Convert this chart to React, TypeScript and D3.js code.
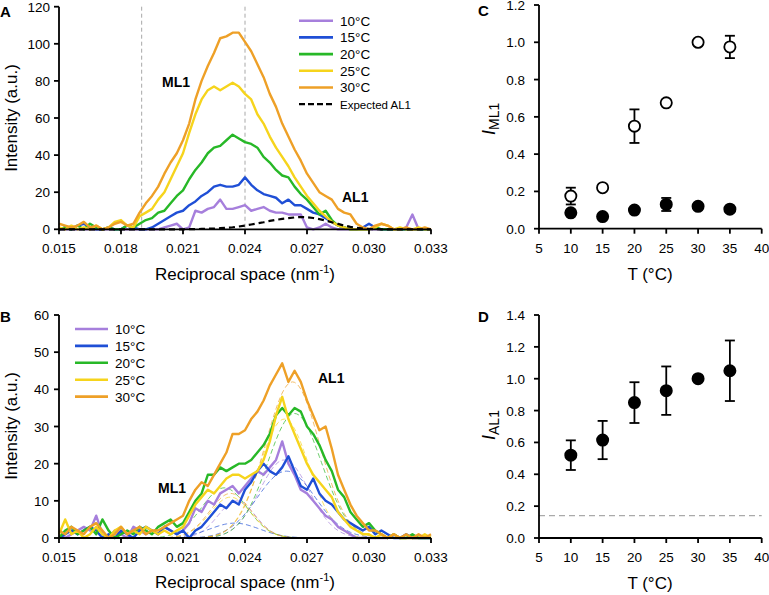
import React from "react";
import * as d3 from "d3";

// ---------- shared x grid for panels A & B (reciprocal space, nm^-1) ----------
const xGrid = [
  0.015, 0.0153, 0.0156, 0.0159, 0.0162, 0.0165, 0.0168, 0.0171, 0.0174, 0.0177,
  0.018, 0.0183, 0.0186, 0.0189, 0.0192, 0.0195, 0.0198, 0.0201, 0.0204, 0.0207,
  0.021, 0.0213, 0.0216, 0.0219, 0.0222, 0.0225, 0.0228, 0.0231, 0.0234, 0.0237,
  0.024, 0.0243, 0.0246, 0.0249, 0.0252, 0.0255, 0.0258, 0.0261, 0.0264, 0.0267,
  0.027, 0.0273, 0.0276, 0.0279, 0.0282, 0.0285, 0.0288, 0.0291, 0.0294, 0.0297,
  0.03, 0.0303, 0.0306, 0.0309, 0.0312, 0.0315, 0.0318, 0.0321, 0.0324, 0.0327, 0.033,
];

const tempLabels = ["10°C", "15°C", "20°C", "25°C", "30°C"];
const tempColors = ["#a67fdc", "#1f4fd6", "#27b827", "#f6d41c", "#eea027"];

// ---------- Panel A intensities ----------
const a10 = [0, 0, 0, 0, 0, 0, 0, 0, 0, 0, 0, 0, 0, 0, 0, 0, 0, 1, 2, 3, 0, 1, 10, 9, 11, 12, 16, 11, 11, 12, 13, 10, 11, 12, 10, 9, 9, 8, 8, 8, 1, 0, 1, 3, 1, 0, 0, 0, 0, 0, 0, 0, 0, 0, 0, 0, 1, 8, 0, 0, 0];
const a15 = [0, 1, 0, 2, 3, 1, 0, 0, 1, 0, 0, 2, 1, 0, 0, 1, 3, 5, 7, 9, 10, 13, 15, 18, 20, 23, 24, 23, 23, 24, 28, 24, 21, 19, 18, 17, 14, 16, 13, 13, 11, 9, 8, 6, 4, 2, 1, 0, 0, 1, 3, 1, 0, 0, 0, 0, 0, 0, 0, 0, 0];
const a20 = [0, 1, 0, 2, 0, 3, 1, 0, 1, 0, 0, 2, 1, 3, 5, 6, 9, 10, 14, 18, 21, 27, 32, 36, 41, 44, 45, 48, 51, 49, 47, 46, 44, 39, 36, 32, 29, 28, 23, 19, 16, 12, 8, 10, 5, 2, 1, 0, 0, 0, 0, 1, 0, 0, 0, 0, 0, 0, 0, 0, 0];
const a25 = [1, 0, 2, 0, 1, 0, 2, 0, 1, 4, 5, 2, 1, 7, 9, 11, 16, 20, 27, 34, 41, 52, 62, 70, 75, 77, 75, 77, 79, 77, 73, 70, 62, 57, 50, 44, 39, 34, 28, 23, 18, 14, 10, 7, 4, 2, 1, 0, 0, 0, 0, 1, 3, 2, 0, 1, 0, 0, 1, 0, 0];
const a30 = [3, 2, 1, 2, 4, 1, 2, 0, 1, 3, 4, 2, 3, 9, 14, 18, 23, 30, 36, 41, 48, 57, 70, 80, 88, 95, 103, 104, 106, 106, 101, 96, 89, 82, 73, 66, 57, 50, 43, 37, 30, 25, 20, 18, 16, 11, 9, 8, 3, 1, 0, 2, 3, 2, 0, 0, 1, 0, 0, 1, 0];
const expectedAL1 = [0, 0, 0, 0, 0, 0, 0, 0, 0, 0, 0, 0, 0, 0, 0, 0, 0, 0, 0, 0, 0, 0.05, 0.1, 0.2, 0.3, 0.4, 0.6, 0.8, 1.1, 1.5, 2.0, 2.6, 3.2, 3.8, 4.5, 5.1, 5.6, 6.0, 6.4, 6.6, 6.5, 6.1, 5.5, 4.7, 3.8, 2.9, 2.0, 1.3, 0.8, 0.4, 0.2, 0.1, 0, 0, 0, 0, 0, 0, 0, 0, 0];
const seriesA = [a10, a15, a20, a25, a30];

// ---------- Panel B intensities ----------
const b10 = [1, 0, 1, 2, 3, 2, 6, 1, 0, 2, 1, 0, 3, 2, 1, 2, 1, 3, 2, 1, 2, 4, 8, 7, 10, 9, 12, 13, 14, 12, 14, 16, 18, 17, 19, 21, 26, 20, 17, 13, 12, 10, 8, 6, 5, 3, 2, 1, 0, 0, 0, 0, 0, 0, 1, 0, 0, 0, 0, 0, 0];
const b15 = [0, 1, 2, 1, 2, 3, 2, 0, 1, 0, 2, 1, 0, 2, 3, 2, 1, 3, 2, 1, 2, 0, 2, 3, 5, 7, 9, 8, 10, 9, 13, 15, 18, 20, 18, 17, 19, 22, 18, 14, 13, 16, 12, 10, 9, 7, 5, 4, 3, 2, 3, 1, 2, 1, 0, 0, 1, 0, 0, 0, 0];
const b20 = [0, 2, 3, 1, 2, 3, 1, 5, 2, 0, 1, 2, 1, 3, 2, 1, 3, 4, 5, 3, 4, 7, 10, 12, 17, 17, 19, 18, 19, 20, 20, 21, 23, 25, 28, 33, 35, 33, 35, 34, 30, 28, 25, 21, 18, 13, 11, 7, 5, 3, 4, 2, 1, 0, 1, 0, 0, 1, 0, 0, 0];
const b25 = [1, 5, 1, 2, 0, 1, 3, 1, 0, 2, 3, 1, 2, 1, 3, 2, 1, 2, 1, 2, 3, 6, 9, 11, 13, 12, 14, 16, 17, 17, 16, 17, 18, 21, 26, 33, 38, 32, 28, 24, 20, 17, 15, 13, 11, 7, 5, 3, 2, 1, 1, 0, 1, 0, 1, 0, 0, 0, 0, 1, 0];
const b30 = [2, 1, 3, 2, 1, 3, 4, 2, 0, 1, 3, 1, 2, 3, 1, 2, 2, 3, 4, 5, 6, 10, 13, 15, 14, 17, 20, 23, 28, 28, 29, 32, 34, 37, 41, 44, 47, 42, 45, 42, 37, 33, 29, 30, 24, 17, 13, 9, 6, 4, 2, 2, 1, 0, 1, 0, 1, 0, 1, 0, 1];
const seriesB = [b10, b15, b20, b25, b30];

// Gaussian fit components (panel B)
const fitAL1Amp = [21, 18, 33.5, 32, 42];
const fitAL1Center = [0.0259, 0.026, 0.0264, 0.0259, 0.0263];
const fitAL1Sigma = [0.0012, 0.0014, 0.0013, 0.0012, 0.0013];
const fitML1Amp = [10, 4, 13.5, 11, 12];
const fitML1Center = [0.0236, 0.0235, 0.023, 0.0233, 0.0233];
const fitML1Sigma = [0.0009, 0.0012, 0.0011, 0.001, 0.001];

// ---------- axes ticks ----------
const recipTicks = [0.015, 0.018, 0.021, 0.024, 0.027, 0.03, 0.033];
const recipTickLabels = ["0.015", "0.018", "0.021", "0.024", "0.027", "0.030", "0.033"];
const yTicksA = [0, 20, 40, 60, 80, 100, 120];
const yTicksB = [0, 10, 20, 30, 40, 50, 60];
const markerLines = [0.019, 0.024];

// ---------- Panels C & D ----------
const temps = [10, 15, 20, 25, 30, 35];
const mlOpen = [0.175, 0.22, 0.55, 0.675, 1.0, 0.975];
const mlOpenErr = [0.045, 0.01, 0.09, 0.015, 0, 0.06];
const mlFilled = [0.085, 0.065, 0.1, 0.13, 0.12, 0.105];
const mlFilledErr = [0.02, 0, 0, 0.035, 0, 0];
const alFilled = [0.52, 0.615, 0.85, 0.925, 1.0, 1.05];
const alFilledErr = [0.093, 0.12, 0.128, 0.152, 0, 0.19];
const alReference = 0.14;
const tTicks = [5, 10, 15, 20, 25, 30, 35, 40];
const yTicksC = [0, 0.2, 0.4, 0.6, 0.8, 1.0, 1.2];
const yTicksD = [0, 0.2, 0.4, 0.6, 0.8, 1.0, 1.2, 1.4];

const FONT = "'Liberation Sans', Arial, Helvetica, sans-serif";
const AX = 1.8;

function XAxis({ scale, y, ticks, labels }: any) {
  const [x0, x1] = scale.range();
  return (
    <g>
      <line x1={x0 - AX / 2} x2={x1} y1={y} y2={y} stroke="#000" strokeWidth={AX} />
      {ticks.map((t: number, i: number) => (
        <g key={i}>
          <line x1={scale(t)} x2={scale(t)} y1={y} y2={y + 5} stroke="#000" strokeWidth={AX} />
          <text x={scale(t)} y={y + 24} textAnchor="middle" fontSize={13.5}>
            {labels[i]}
          </text>
        </g>
      ))}
    </g>
  );
}

function YAxis({ scale, x, ticks, labels, gap }: any) {
  const [y0, y1] = scale.range();
  return (
    <g>
      <line x1={x} x2={x} y1={y0 + AX / 2} y2={y1} stroke="#000" strokeWidth={AX} />
      {ticks.map((t: number, i: number) => (
        <g key={i}>
          <line x1={x - 5} x2={x} y1={scale(t)} y2={scale(t)} stroke="#000" strokeWidth={AX} />
          <text x={x - gap} y={scale(t) + 5} textAnchor="end" fontSize={13.5}>
            {labels[i]}
          </text>
        </g>
      ))}
    </g>
  );
}

function ErrPoint({ cx, cy, top, bot, open }: any) {
  return (
    <g>
      {Math.abs(bot - top) > 8 && (
        <g stroke="#000" strokeWidth={1.8}>
          <line x1={cx} x2={cx} y1={top} y2={bot} />
          <line x1={cx - 5} x2={cx + 5} y1={top} y2={top} />
          <line x1={cx - 5} x2={cx + 5} y1={bot} y2={bot} />
        </g>
      )}
      <circle cx={cx} cy={cy} r={5.6} fill={open ? "#fff" : "#000"} stroke="#000" strokeWidth={1.8} />
    </g>
  );
}

export default function App() {
  const xR = d3.scaleLinear().domain([0.015, 0.033]).range([59, 431]);
  const yA = d3.scaleLinear().domain([0, 120]).range([229.3, 6.7]);
  const yB = d3.scaleLinear().domain([0, 60]).range([538, 315]);
  const xT = d3.scaleLinear().domain([5, 40]).range([539, 761.7]);
  const yC = d3.scaleLinear().domain([0, 1.2]).range([228.7, 5]);
  const yD = d3.scaleLinear().domain([0, 1.4]).range([538, 315]);

  const lineA = d3.line<number>().x((_, i) => xR(xGrid[i])).y((d) => yA(d));
  const lineB = d3.line<number>().x((_, i) => xR(xGrid[i])).y((d) => yB(d));

  const fitGrid = d3.range(0.0195, 0.0312, 0.0001);
  const gauss = (a: number, c: number, s: number) =>
    d3.line<number>().x((x) => xR(x)).y((x) => yB(a * Math.exp(-((x - c) ** 2) / (2 * s * s))))(fitGrid) || "";

  const fmt1 = d3.format(".1f");

  return (
    <svg width={769} height={595} style={{ position: "absolute", left: 0, top: 0, fontFamily: FONT }}>
      <rect width={769} height={595} fill="#fff" />

      {/* ---------- Panel A ---------- */}
      <text x={0} y={17} fontSize={15} fontWeight="bold">A</text>
      {markerLines.map((m, i) => (
        <line key={i} x1={xR(m)} x2={xR(m)} y1={yA(120)} y2={yA(0)} stroke="#a8a8a8" strokeWidth={1} strokeDasharray="4,3" />
      ))}
      {seriesA.map((s, k) => (
        <path key={k} d={lineA(s) || ""} fill="none" stroke={tempColors[k]} strokeWidth={2.4} strokeLinejoin="round" />
      ))}
      <path d={lineA(expectedAL1) || ""} fill="none" stroke="#000" strokeWidth={2.2} strokeDasharray="6,4" />
      <XAxis scale={xR} y={yA(0)} ticks={recipTicks} labels={recipTickLabels} />
      <YAxis scale={yA} x={59} ticks={yTicksA} labels={yTicksA.map(String)} gap={9} />
      <text x={245} y={280} textAnchor="middle" fontSize={17}>
        Reciprocal space (nm<tspan dy={-7} fontSize={11}>-1</tspan><tspan dy={7}>)</tspan>
      </text>
      <text transform={`translate(17,118) rotate(-90)`} textAnchor="middle" fontSize={17}>Intensity (a.u.)</text>
      <text x={162} y={87} fontSize={14} fontWeight="bold">ML1</text>
      <text x={342} y={202} fontSize={14} fontWeight="bold">AL1</text>
      {tempLabels.map((t, k) => (
        <g key={k}>
          <line x1={299} x2={333} y1={20.7 + k * 16.7} y2={20.7 + k * 16.7} stroke={tempColors[k]} strokeWidth={2.6} />
          <text x={340} y={25.5 + k * 16.7} fontSize={13.5}>{t}</text>
        </g>
      ))}
      <line x1={299} x2={333} y1={104.2} y2={104.2} stroke="#000" strokeWidth={2.2} strokeDasharray="6,3" />
      <text x={340} y={108.5} fontSize={11.5}>Expected AL1</text>

      {/* ---------- Panel B ---------- */}
      <text x={0} y={322} fontSize={15} fontWeight="bold">B</text>
      {seriesB.map((_, k) => (
        <g key={k} fill="none" stroke={tempColors[k]} strokeWidth={0.8} strokeDasharray="5,3" opacity={0.85}>
          <path d={gauss(fitML1Amp[k], fitML1Center[k], fitML1Sigma[k])} />
          <path d={gauss(fitAL1Amp[k], fitAL1Center[k], fitAL1Sigma[k])} />
        </g>
      ))}
      {seriesB.map((s, k) => (
        <path key={k} d={lineB(s) || ""} fill="none" stroke={tempColors[k]} strokeWidth={2.4} strokeLinejoin="round" />
      ))}
      <XAxis scale={xR} y={yB(0)} ticks={recipTicks} labels={recipTickLabels} />
      <YAxis scale={yB} x={59} ticks={yTicksB} labels={yTicksB.map(String)} gap={10} />
      <text x={245} y={588} textAnchor="middle" fontSize={17}>
        Reciprocal space (nm<tspan dy={-7} fontSize={11}>-1</tspan><tspan dy={7}>)</tspan>
      </text>
      <text transform={`translate(17,426) rotate(-90)`} textAnchor="middle" fontSize={17}>Intensity (a.u.)</text>
      <text x={158} y={493} fontSize={14} fontWeight="bold">ML1</text>
      <text x={318} y={383} fontSize={14} fontWeight="bold">AL1</text>
      {tempLabels.map((t, k) => (
        <g key={k}>
          <line x1={75} x2={108} y1={329 + k * 16.9} y2={329 + k * 16.9} stroke={tempColors[k]} strokeWidth={2.6} />
          <text x={115} y={334 + k * 16.9} fontSize={13.5}>{t}</text>
        </g>
      ))}

      {/* ---------- Panel C ---------- */}
      <text x={478} y={16} fontSize={15} fontWeight="bold">C</text>
      <XAxis scale={xT} y={yC(0)} ticks={tTicks} labels={tTicks.map(String)} />
      <YAxis scale={yC} x={539} ticks={yTicksC} labels={yTicksC.map(fmt1)} gap={14} />
      {temps.map((t, i) => (
        <ErrPoint key={"f" + i} cx={xT(t)} cy={yC(mlFilled[i])} top={yC(mlFilled[i] + mlFilledErr[i])} bot={yC(mlFilled[i] - mlFilledErr[i])} open={false} />
      ))}
      {temps.map((t, i) => (
        <ErrPoint key={"o" + i} cx={xT(t)} cy={yC(mlOpen[i])} top={yC(mlOpen[i] + mlOpenErr[i])} bot={yC(mlOpen[i] - mlOpenErr[i])} open={true} />
      ))}
      <text x={650} y={280} textAnchor="middle" fontSize={17}>T (°C)</text>
      <text transform={`translate(495,135) rotate(-90)`} fontSize={18}>
        <tspan fontStyle="italic">I</tspan>
        <tspan fontSize={14} dy={4}>ML1</tspan>
      </text>

      {/* ---------- Panel D ---------- */}
      <text x={478} y={322} fontSize={15} fontWeight="bold">D</text>
      <line x1={xT(5)} x2={xT(40)} y1={yD(alReference)} y2={yD(alReference)} stroke="#aaa" strokeWidth={1.2} strokeDasharray="6,4" />
      <XAxis scale={xT} y={yD(0)} ticks={tTicks} labels={tTicks.map(String)} />
      <YAxis scale={yD} x={539} ticks={yTicksD} labels={yTicksD.map(fmt1)} gap={14} />
      {temps.map((t, i) => (
        <ErrPoint key={"d" + i} cx={xT(t)} cy={yD(alFilled[i])} top={yD(alFilled[i] + alFilledErr[i])} bot={yD(alFilled[i] - alFilledErr[i])} open={false} />
      ))}
      <text x={650} y={589} textAnchor="middle" fontSize={17}>T (°C)</text>
      <text transform={`translate(495,440) rotate(-90)`} fontSize={18}>
        <tspan fontStyle="italic">I</tspan>
        <tspan fontSize={14} dy={4}>AL1</tspan>
      </text>
    </svg>
  );
}
